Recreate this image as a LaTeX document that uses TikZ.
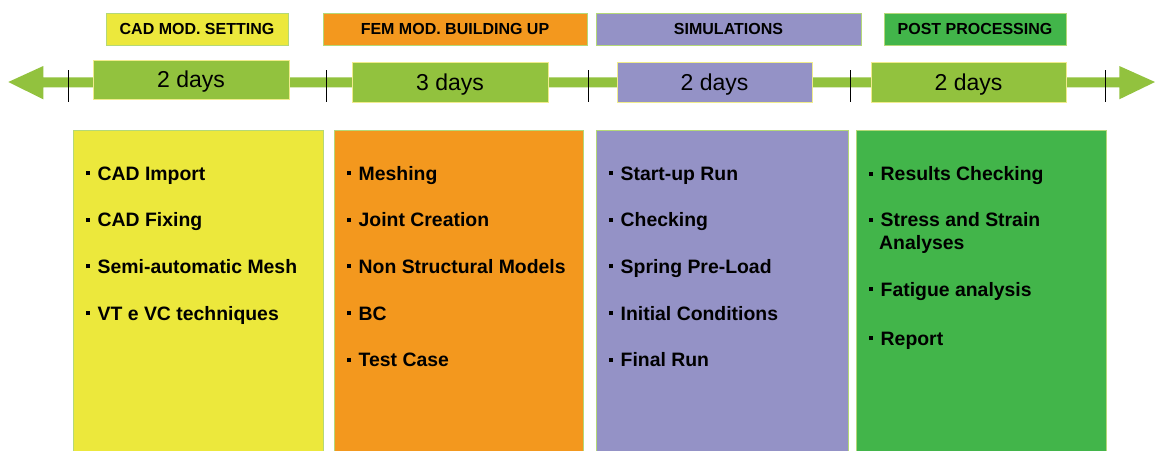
\documentclass[tikz,border=0pt]{standalone}
\usepackage{fontspec}
\setmainfont{Liberation Sans}
\definecolor{cyel}{RGB}{236,232,60}
\definecolor{cora}{RGB}{243,152,30}
\definecolor{clav}{RGB}{148,146,198}
\definecolor{cgrn}{RGB}{66,181,74}
\definecolor{cline}{RGB}{146,194,62}
\definecolor{cbord}{RGB}{180,216,120}
\definecolor{cdbord}{RGB}{240,236,140}
\newcommand{\bul}{\rule[5pt]{4pt}{4pt}\hspace{7.5pt}}
\begin{document}
\begin{tikzpicture}[x=1pt,y=-1pt,
  hdr/.style={draw=cbord, line width=1pt, inner sep=0pt,
    font=\bfseries\fontsize{16}{18}\selectfont, text height=11.5pt, text depth=0pt},
  daybox/.style={draw=cdbord, line width=1pt, fill=cline, inner sep=0pt,
    font=\fontsize{23}{26}\selectfont, text height=16.5pt, text depth=0pt},
  bigbox/.style={draw=cbord, line width=1pt, inner sep=0pt},
  item/.style={anchor=base west, inner sep=0pt,
    font=\bfseries\fontsize{19.4}{22.6}\selectfont, align=left},
  tick/.style={draw=black, line width=1pt}]
\useasboundingbox (0,0) rectangle (1155,450);
\fill[white] (0,0) rectangle (1155,450);

% timeline arrow
\fill[cline] (8.3,82) -- (43.3,66) -- (43.3,77.3) -- (1119.3,77.3) -- (1119.3,66)
  -- (1155,82) -- (1119.3,99.3) -- (1119.3,87.3) -- (43.3,87.3) -- (43.3,99.3) -- cycle;
\foreach \x in {68,326,588,850,1105} \draw[tick] (\x,70) -- (\x,102);

% header boxes
\node[hdr, fill=cyel, minimum width=182pt, minimum height=32pt] (h1) at (197,29) {CAD MOD. SETTING};
\node[hdr, fill=cora, minimum width=264pt, minimum height=32pt] (h2) at (455,29) {FEM MOD. BUILDING UP};
\node[hdr, fill=clav, minimum width=265pt, minimum height=32pt] (h3) at (728.5,29) {SIMULATIONS};
\node[hdr, fill=cgrn, minimum width=182pt, minimum height=32pt] (h4) at (975,29) {POST PROCESSING};

% day boxes
\node[daybox, minimum width=196pt, minimum height=39pt] (d1) at (191,79.5) {2 days};
\node[daybox, minimum width=196pt, minimum height=40pt] (d2) at (450,82) {3 days};
\node[daybox, fill=clav, minimum width=195pt, minimum height=40pt] (d3) at (714.5,82) {2 days};
\node[daybox, minimum width=195pt, minimum height=40pt] (d4) at (968.5,82) {2 days};

% big boxes
\node[bigbox, fill=cyel, minimum width=250pt, minimum height=330pt] (b1) at (198,295) {};
\node[bigbox, fill=cora, minimum width=249pt, minimum height=330pt] (b2) at (458.5,295) {};
\node[bigbox, fill=clav, minimum width=252pt, minimum height=330pt] (b3) at (722,295) {};
\node[bigbox, fill=cgrn, minimum width=250pt, minimum height=330pt] (b4) at (981,295) {};

% items
\node[item] (y1) at (86,180) {\bul CAD Import};
\node[item] (y2) at (86,226.7) {\bul CAD Fixing};
\node[item] (y3) at (86,273.3) {\bul Semi-automatic Mesh};
\node[item] (y4) at (86,320) {\bul VT e VC techniques};

\node[item] (o1) at (347,180) {\bul Meshing};
\node[item] (o2) at (347,226.7) {\bul Joint Creation};
\node[item] (o3) at (347,273.3) {\bul Non Structural Models};
\node[item] (o4) at (347,320) {\bul BC};
\node[item] (o5) at (347,366.7) {\bul Test Case};

\node[item] (l1) at (609,180) {\bul Start-up Run};
\node[item] (l2) at (609,226.7) {\bul Checking};
\node[item] (l3) at (609,273.3) {\bul Spring Pre-Load};
\node[item] (l4) at (609,320) {\bul Initial Conditions};
\node[item] (l5) at (609,366.7) {\bul Final Run};

\node[item] (g1) at (869,180.7) {\bul Results Checking};
\node[item] (g2) at (869,249.3) {\bul Stress and Strain\\\hspace*{10pt}Analyses};
\node[item] (g3) at (869,296) {\bul Fatigue analysis};
\node[item] (g4) at (869,345) {\bul Report};
\end{tikzpicture}
\end{document}
